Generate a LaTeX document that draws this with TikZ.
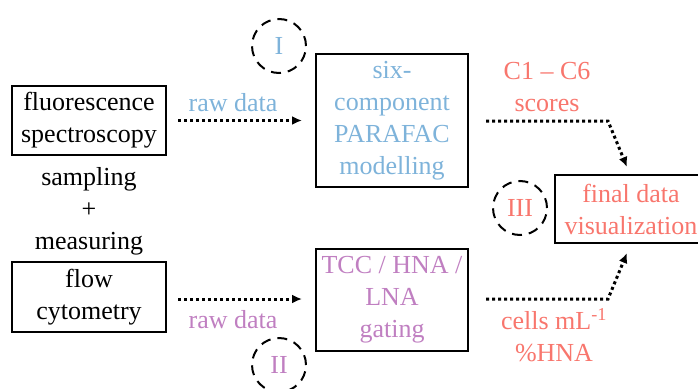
\documentclass[tikz,border=0pt]{standalone}
\usepackage{fontspec}
\setmainfont{Liberation Serif}
\usetikzlibrary{arrows.meta}
\definecolor{cblue}{HTML}{7EB3DA}
\definecolor{cpurple}{HTML}{C07FC1}
\definecolor{csalmon}{HTML}{F8766D}
\begin{document}
\begin{tikzpicture}[x=1pt,y=-1pt,
  every node/.style={font=\rmfamily\fontsize{26}{32}\selectfont, align=center, inner sep=0pt},
  box/.style={draw=black, line width=2pt},
  conn/.style={line width=3pt, dash pattern=on 3pt off 3pt, -{Latex[length=10pt,width=9pt]}},
  badge/.style={draw=black, line width=2pt, dash pattern=on 10pt off 7pt, circle, minimum size=54pt}]
\useasboundingbox (0,0) rectangle (698,388);
% boxes
\node[box, minimum width=154pt, minimum height=69pt] (fl) at (89,120.5) {fluorescence\\spectroscopy};
\node (sm) at (89,211) {sampling\\+\\measuring};
\node[box, minimum width=154pt, minimum height=70pt] (fc) at (89,297) {flow\\cytometry};
\node[box, minimum width=152pt, minimum height=133pt, text=cblue] (par) at (392,120.5) {six-\\component\\PARAFAC\\modelling};
\node[box, minimum width=152pt, minimum height=102pt, text=cpurple] (tcc) at (392,300) {TCC / HNA /\\LNA\\gating};
\node[box, minimum width=152pt, minimum height=68pt, text=csalmon] (fin) at (631,209) {final data\\visualization};
% labels
\node[text=cblue] (rw1) at (233,103) {raw data};
\node[text=cpurple] (rw2) at (233,320) {raw data};
\node[text=csalmon] (sc) at (547,87) {C1 \textendash{} C6\\scores};
\node[text=csalmon] (cl) at (554,335) {cells mL\textsuperscript{-1}\\\%HNA};
% badges
\node[badge, text=cblue] (b1) at (279,46) {I};
\node[badge, text=cpurple] (b2) at (279,365) {II};
\node[badge, text=csalmon] (b3) at (520,208) {III};
% connectors
\coordinate (c1) at (608,121);
\coordinate (t1) at (627,167);
\coordinate (c2) at (608,299);
\coordinate (t2) at (627,253);
\draw[conn, shorten <=11pt, shorten >=13pt] (fl) -- (par);
\draw[conn, shorten <=11pt, shorten >=13pt] (fc.east |- c2) -- (tcc.west |- c2);
\draw[conn, shorten <=17pt] (par.east |- c1) -- (c1) -- (t1);
\draw[conn, shorten <=17pt] (tcc.east |- c2) -- (c2) -- (t2);
\end{tikzpicture}
\end{document}
